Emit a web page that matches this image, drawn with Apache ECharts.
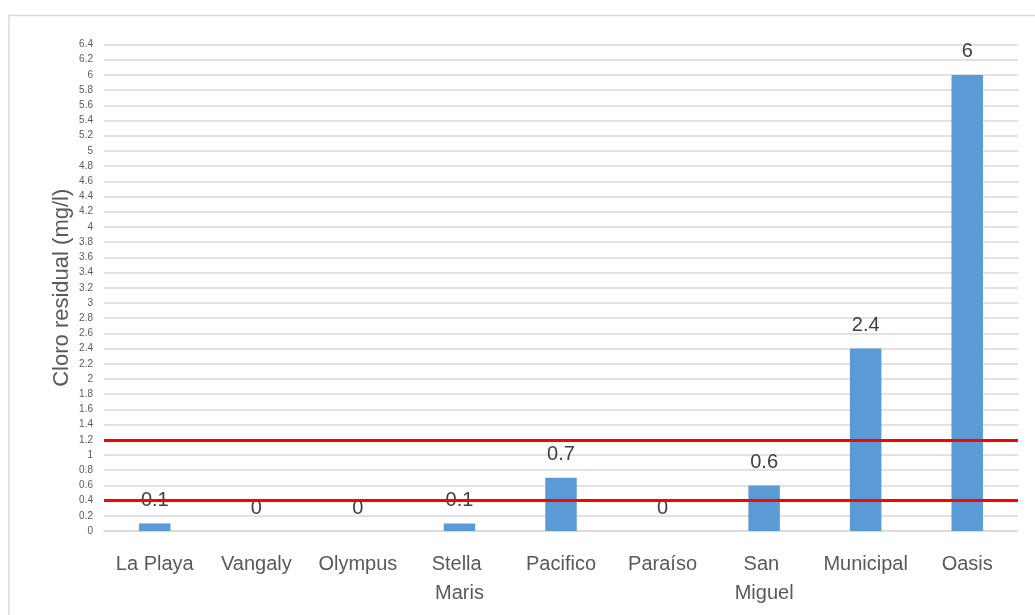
<!DOCTYPE html>
<html>
<head>
<meta charset="utf-8">
<script src="https://cdn.jsdelivr.net/npm/echarts@6/dist/echarts.min.js"></script>
<style>html,body{margin:0;padding:0;background:#fff}#c{width:1035px;height:615px}</style>
</head>
<body>
<div id="c"></div>
<script>
var categories = ["La Playa","Vangaly","Olympus","Stella Maris","Pacifico","Paraíso","San Miguel","Municipal","Oasis"];
var values = [0.1, 0, 0, 0.1, 0.7, 0, 0.6, 2.4, 6];
var limitLines = [0.4, 1.2];
var yMin = 0, yMax = 6.4, yStep = 0.2;
var yName = "Cloro residual (mg/l)";

var chart = echarts.init(document.getElementById('c'), null, {renderer:'canvas'});
var FONT = 'Liberation Sans';
chart.setOption({
  animation:false,
  backgroundColor:'#fff',
  textStyle:{fontFamily:FONT},
  graphic:[{type:'rect', shape:{x:9, y:15.5, width:1200, height:800}, style:{fill:'none', stroke:'#d9d9d9', lineWidth:1.5}, silent:true}],
  grid:{left:104, right:17, top:44.5, bottom:84, containLabel:false},
  xAxis:{
    type:'category', data:categories,
    axisLine:{show:true, lineStyle:{color:'#d9d9d9', width:1.5}},
    axisTick:{show:false},
    axisLabel:{interval:0, color:'#595959', fontSize:20, fontFamily:FONT, margin:19, lineHeight:29, width:95, overflow:'break'}
  },
  yAxis:{
    type:'value', min:yMin, max:yMax, interval:yStep,
    name:yName, nameLocation:'middle', nameGap:31, nameRotate:90, nameMoveOverlap:false,
    nameTextStyle:{color:'#595959', fontSize:22, fontFamily:FONT},
    axisLine:{show:false}, axisTick:{show:false},
    axisLabel:{color:'#595959', fontSize:10, fontFamily:FONT, margin:11},
    splitLine:{lineStyle:{color:'#d9d9d9', width:1.5}}
  },
  series:[{
    type:'bar', data:values, barWidth:'31%',
    itemStyle:{color:'#5B9BD5'},
    label:{show:true, position:'top', distance:13, color:'#404040', fontSize:20, fontFamily:FONT},
    markLine:{
      silent:true, symbol:['none','none'], z:10,
      label:{show:false},
      lineStyle:{color:'#FF0000', width:3, type:'solid'},
      data: limitLines.map(function(v){return {yAxis:v};})
    }
  }]
});
</script>
</body>
</html>
